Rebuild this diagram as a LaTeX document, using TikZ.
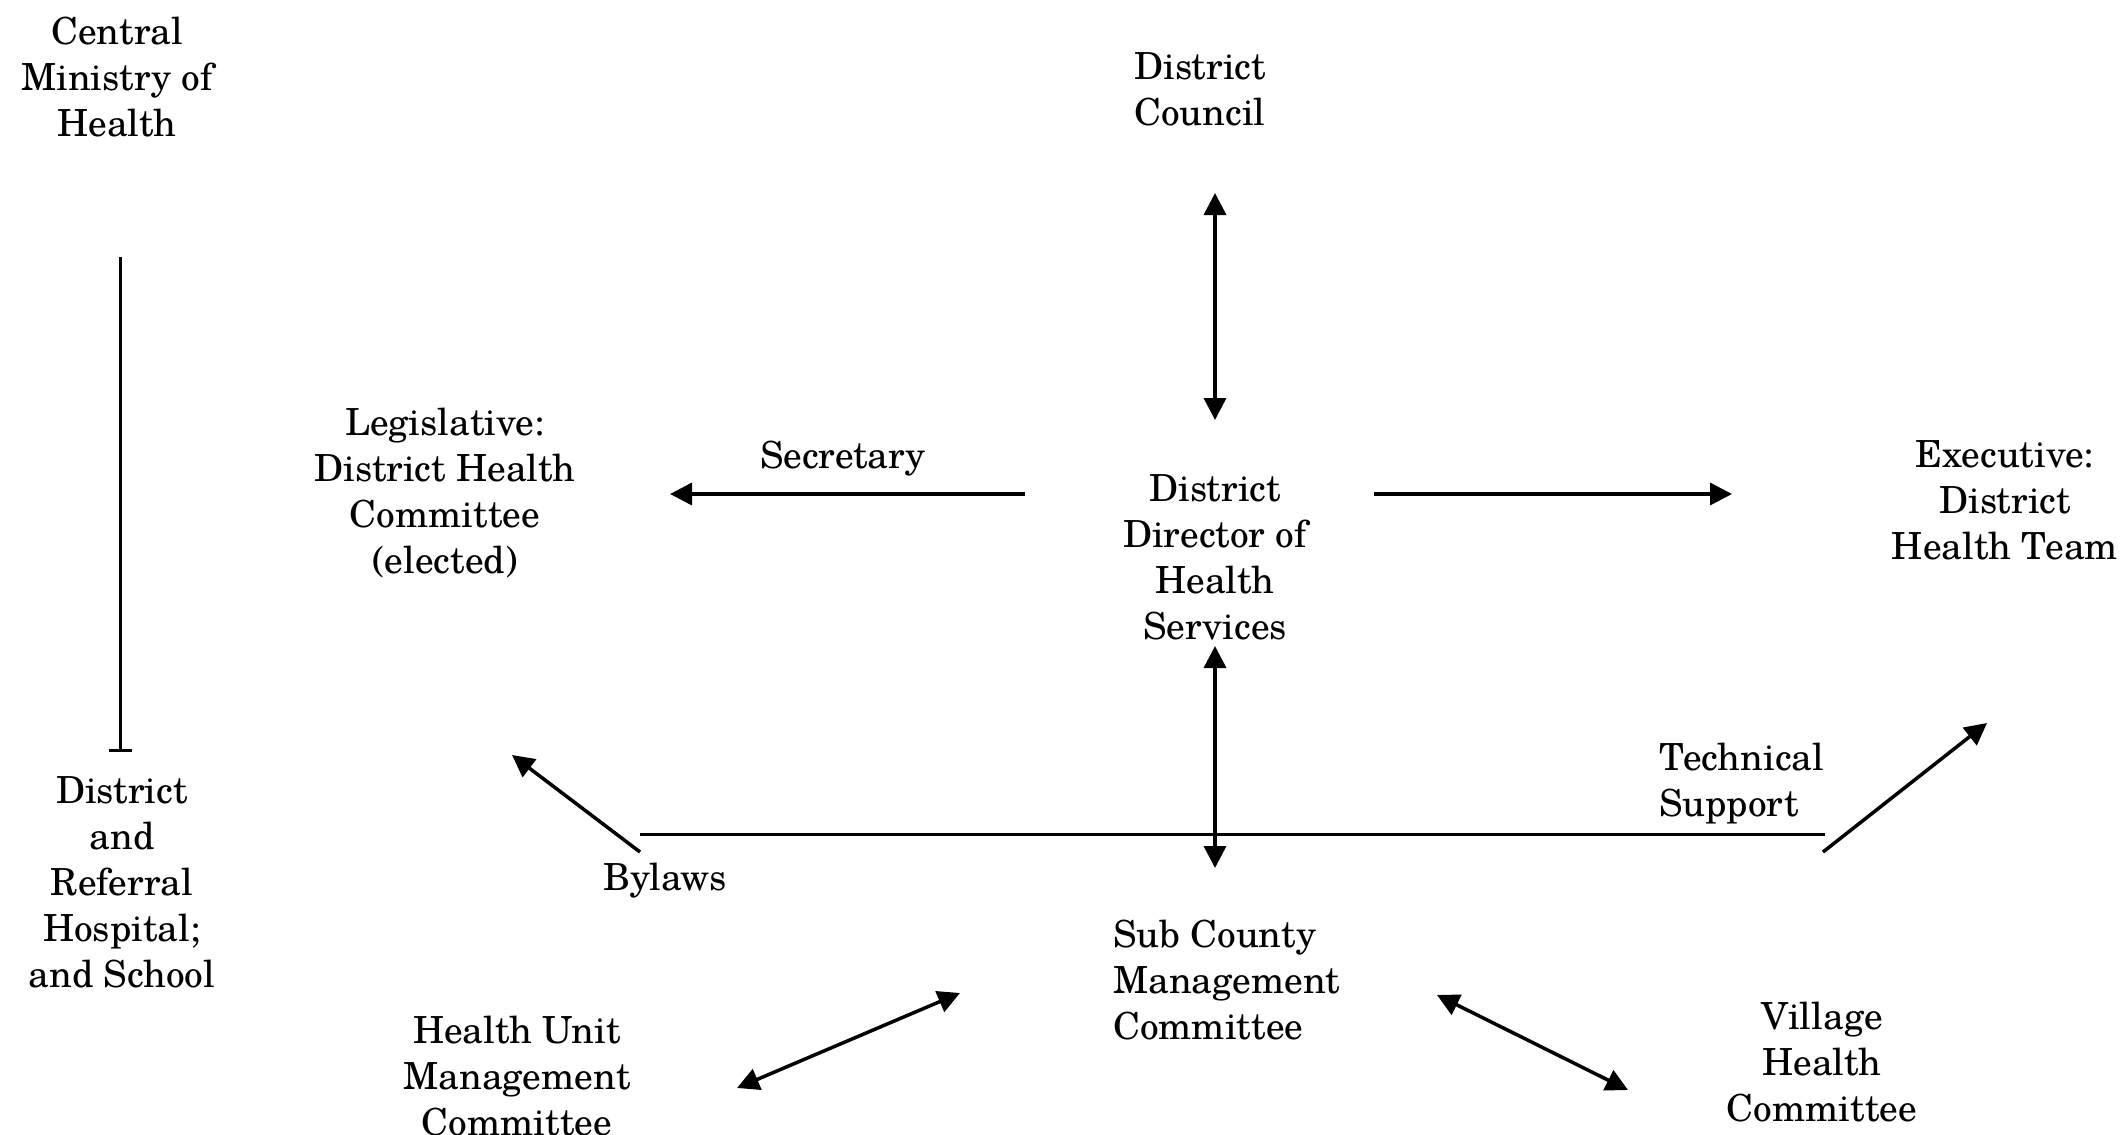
\documentclass[tikz,border=0pt]{standalone}
\usepackage{fontspec}
\setmainfont{TeX Gyre Schola}
\usetikzlibrary{arrows.meta}
\begin{document}
\begin{tikzpicture}[x=1pt,y=-1pt,
  lbl/.style={inner sep=0pt,align=center,font=\fontsize{37.3}{46}\selectfont},
  lbll/.style={inner sep=0pt,align=left,font=\fontsize{37.3}{46}\selectfont},
  conn/.style={line width=3.5pt},
  arr/.style={conn,-{Triangle[width=22pt,length=22pt]}},
  darr/.style={conn,{Triangle[width=22pt,length=22pt]}-{Triangle[width=22pt,length=22pt]}}]
\useasboundingbox (0,0) rectangle (2123,1135);
% texts
\node[lbl] (cmh) at (117,77) {Central\\Ministry of\\Health};
\node[lbl] (hosp) at (122,882) {District\\and\\Referral\\Hospital;\\and School};
\node[lbl] (dc) at (1200,89) {District\\Council};
\node[lbl] (dd) at (1215,557) {District\\Director of\\Health\\Services};
\node[lbl] (leg) at (445,493) {Legislative:\\District Health\\Committee\\(elected)};
\node[lbl] (sec) at (843,459) {Secretary};
\node[lbl] (exe) at (2005,500) {Executive:\\District\\Health Team};
\node[lbll,anchor=west] (ts) at (1659,784) {Technical\\Support};
\node[lbl] (by) at (665,881) {Bylaws};
\node[lbll,anchor=west] (sc) at (1113,980) {Sub County\\Management\\Committee};
\node[lbl] (hu) at (517,1076) {Health Unit\\Management\\Committee};
\node[lbl] (vh) at (1822,1062) {Village\\Health\\Committee};
% connector end points
\coordinate (cmhB) at (120,257);
\coordinate (hospT) at (120,752);
\coordinate (dcB) at (1215,193);
\coordinate (ddT) at (1215,420);
\coordinate (ddB) at (1215,646);
\coordinate (scT) at (1215,868);
\coordinate (ddL) at (1025,494);
\coordinate (legR) at (670,494);
\coordinate (ddR) at (1374,494);
\coordinate (exeL) at (1732,494);
\coordinate (hL) at (640,834);
\coordinate (hR) at (1825,834);
\coordinate (byS) at (640,852);
\coordinate (legB) at (512,755);
\coordinate (tsS) at (1823,852);
\coordinate (exeB) at (1987,723);
\coordinate (huR) at (737,1088);
\coordinate (scL) at (960,993);
\coordinate (scR) at (1437,995);
\coordinate (vhL) at (1628,1090);
% connectors
\draw[line width=3pt,-{Bar[width=23pt,line width=3.5pt]}] (cmhB) -- (hospT);
\draw[darr] (dcB) -- (ddT);
\draw[darr] (ddB) -- (scT);
\draw[arr] (ddL) -- (legR);
\draw[arr] (ddR) -- (exeL);
\draw[line width=3pt] (hL) -- (hR);
\draw[arr] (byS) -- (legB);
\draw[arr] (tsS) -- (exeB);
\draw[darr] (huR) -- (scL);
\draw[darr] (scR) -- (vhL);
\end{tikzpicture}
\end{document}
